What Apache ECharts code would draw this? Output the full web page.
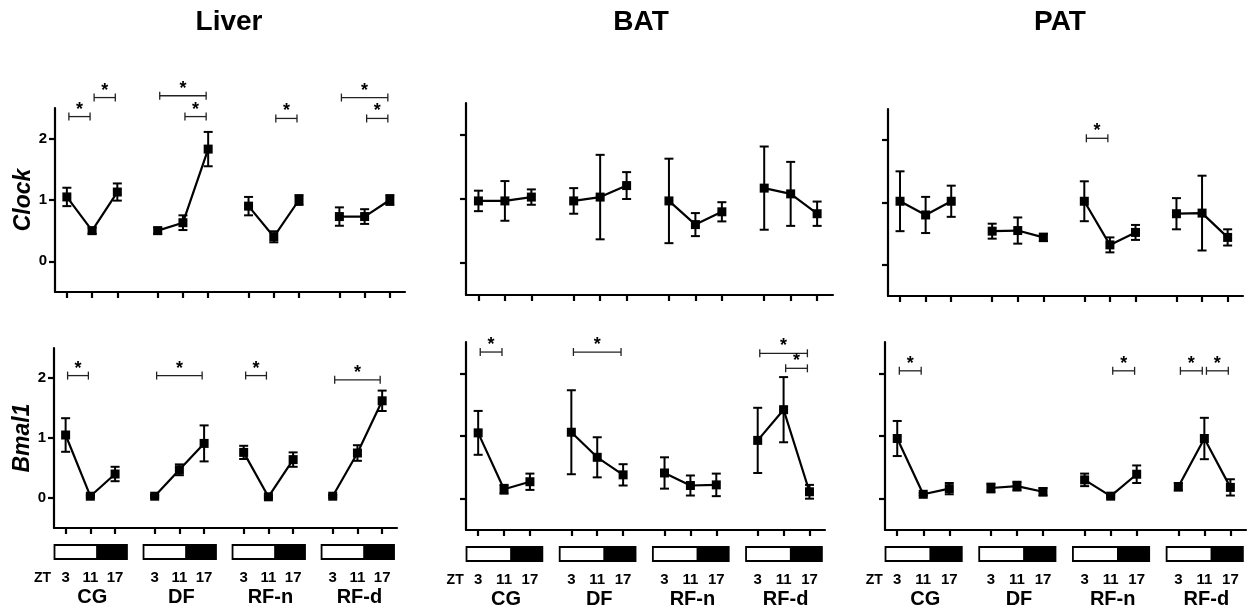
<!DOCTYPE html>
<html><head><meta charset="utf-8">
<script src="https://cdn.jsdelivr.net/npm/echarts@6/dist/echarts.min.js"></script>
<style>html,body{margin:0;padding:0;background:#fff}#c{width:1254px;height:611px}</style>
</head><body><div id="c"></div>
<script>
const groups = ['CG', 'DF', 'RF-n', 'RF-d'];
const ztLabels = ['3', '11', '17'];
const tissues = ['Liver', 'BAT', 'PAT'];
const genes = ['Clock', 'Bmal1'];
const yTicks = [0, 1, 2];

// values per group: ZT3, ZT11, ZT17 for CG, DF, RF-n, RF-d
const liverClockMean = [1.05, 0.50, 1.13, 0.50, 0.63, 1.83, 0.90, 0.40, 1.00, 0.73, 0.73, 1.00];
const liverClockErr  = [0.15, 0.05, 0.14, 0.05, 0.12, 0.28, 0.15, 0.09, 0.08, 0.15, 0.12, 0.08];
const batClockMean   = [0.97, 0.97, 1.03, 0.97, 1.03, 1.21, 0.97, 0.60, 0.80, 1.17, 1.08, 0.77];
const batClockErr    = [0.16, 0.31, 0.12, 0.20, 0.66, 0.21, 0.66, 0.18, 0.15, 0.65, 0.50, 0.19];
const patClockMean   = [1.02, 0.80, 1.02, 0.54, 0.55, 0.44, 1.02, 0.32, 0.52, 0.82, 0.83, 0.44];
const patClockErr    = [0.48, 0.29, 0.25, 0.12, 0.21, 0.06, 0.32, 0.12, 0.12, 0.25, 0.60, 0.13];
const liverBmalMean  = [1.05, 0.03, 0.40, 0.03, 0.47, 0.91, 0.76, 0.02, 0.64, 0.03, 0.75, 1.62];
const liverBmalErr   = [0.28, 0.02, 0.12, 0.02, 0.09, 0.30, 0.11, 0.02, 0.12, 0.02, 0.13, 0.17];
const batBmalMean    = [1.05, 0.15, 0.27, 1.06, 0.66, 0.38, 0.41, 0.21, 0.22, 0.93, 1.42, 0.11];
const batBmalErr     = [0.35, 0.07, 0.13, 0.67, 0.32, 0.17, 0.25, 0.16, 0.18, 0.52, 0.52, 0.11];
const patBmalMean    = [0.96, 0.07, 0.16, 0.17, 0.20, 0.11, 0.30, 0.04, 0.39, 0.19, 0.96, 0.18];
const patBmalErr     = [0.28, 0.02, 0.09, 0.07, 0.07, 0.06, 0.10, 0.02, 0.14, 0.06, 0.33, 0.13];

// significance brackets: [group, fromZT index, toZT index, y level]
const liverClockSig = [[0, 0, 1, 2.36], [0, 1, 2, 2.67], [1, 0, 2, 2.70], [1, 1, 2, 2.36], [2, 1, 2, 2.33], [3, 0, 2, 2.67], [3, 1, 2, 2.33]];
const batClockSig   = [];
const patClockSig   = [[2, 0, 1, 2.03]];
const liverBmalSig  = [[0, 0, 1, 2.04], [1, 0, 2, 2.04], [2, 0, 1, 2.04], [3, 0, 2, 1.97]];
const batBmalSig    = [[0, 0, 1, 2.34], [1, 0, 2, 2.34], [3, 0, 2, 2.32], [3, 1, 2, 2.08]];
const patBmalSig    = [[0, 0, 1, 2.04], [2, 1, 2, 2.04], [3, 0, 1, 2.04], [3, 1, 2, 2.04]];

const panels = [
  { mean: liverClockMean, err: liverClockErr, sig: liverClockSig },
  { mean: batClockMean, err: batClockErr, sig: batClockSig },
  { mean: patClockMean, err: patClockErr, sig: patClockSig },
  { mean: liverBmalMean, err: liverBmalErr, sig: liverBmalSig },
  { mean: batBmalMean, err: batBmalErr, sig: batBmalSig },
  { mean: patBmalMean, err: patBmalErr, sig: patBmalSig }
];

// layout
const gridBoxes = [[55, 108, 350, 184], [466, 103, 367, 192], [888, 109, 355, 187],
                   [54, 348, 343, 180], [466, 342, 359, 188], [885, 342, 361, 188]];
const GROUP_STEP = 3.6;
const X_MIN = -0.47, X_MAX = 13.4, Y_MIN = -0.5, Y_MAX = 2.5;
const FONT = '"Liberation Sans", Arial, sans-serif';
function pos(g, i) { return g * GROUP_STEP + i; }
const xTicks = [];
groups.forEach((g, gi) => ztLabels.forEach((z, i) => xTicks.push(pos(gi, i))));

const chart = echarts.init(document.getElementById('c'));
const grid = [], xAxis = [], yAxis = [], series = [];

panels.forEach((p, k) => {
  const b = gridBoxes[k];
  grid.push({ left: b[0], top: b[1], width: b[2], height: b[3] });
  xAxis.push({
    gridIndex: k, type: 'value', min: X_MIN, max: X_MAX,
    axisLine: { show: true, onZero: false, lineStyle: { color: '#000', width: 2.2 } },
    axisTick: { show: true, length: 6, customValues: xTicks, lineStyle: { color: '#000', width: 2.2 } },
    axisLabel: { show: false }, splitLine: { show: false }
  });
  const left = (k % 3 === 0);
  yAxis.push({
    gridIndex: k, type: 'value', min: Y_MIN, max: Y_MAX,
    name: left ? genes[Math.floor(k / 3)] : '',
    nameLocation: 'middle', nameRotate: 90, nameGap: 19,
    nameTextStyle: { fontFamily: FONT, fontWeight: 'bold', fontStyle: 'italic', fontSize: 23, color: '#000' },
    axisLine: { show: true, onZero: false, lineStyle: { color: '#000', width: 2.2 } },
    axisTick: { show: true, length: 6, customValues: yTicks, lineStyle: { color: '#000', width: 2.2 } },
    axisLabel: { show: left, customValues: yTicks, margin: 8, fontFamily: FONT, fontWeight: 'bold', fontSize: 15, color: '#000' },
    splitLine: { show: false }
  });

  // error bars
  series.push({
    type: 'custom', xAxisIndex: k, yAxisIndex: k, z: 2, clip: false,
    encode: { x: 0, y: [1, 2] },
    data: p.mean.map((m, j) => [pos(Math.floor(j / 3), j % 3), m - p.err[j], m + p.err[j]]),
    renderItem: function (params, api) {
      const x = api.value(0);
      const a = api.coord([x, api.value(1)]), c = api.coord([x, api.value(2)]);
      const w = 4.5, st = { stroke: '#000', lineWidth: 2 };
      return { type: 'group', children: [
        { type: 'line', shape: { x1: a[0], y1: a[1], x2: c[0], y2: c[1] }, style: st },
        { type: 'line', shape: { x1: a[0] - w, y1: a[1], x2: a[0] + w, y2: a[1] }, style: st },
        { type: 'line', shape: { x1: c[0] - w, y1: c[1], x2: c[0] + w, y2: c[1] }, style: st }
      ] };
    }
  });

  // lines per group
  groups.forEach((gname, g) => {
    series.push({
      type: 'line', name: gname, xAxisIndex: k, yAxisIndex: k, z: 3,
      data: ztLabels.map((z, i) => [pos(g, i), p.mean[g * 3 + i]]),
      symbol: 'rect', symbolSize: 9,
      lineStyle: { color: '#000', width: 2.2 }, itemStyle: { color: '#000' }
    });
  });

  // significance brackets
  if (p.sig.length) {
    series.push({
      type: 'custom', xAxisIndex: k, yAxisIndex: k, z: 4, clip: false,
      data: p.sig.map(s => [pos(s[0], s[1]) + 0.08, pos(s[0], s[2]) - 0.08, s[3]]),
      renderItem: function (params, api) {
        const a = api.coord([api.value(0), api.value(2)]), c = api.coord([api.value(1), api.value(2)]);
        const st = { stroke: '#222', lineWidth: 1.3 }, h = 4;
        return { type: 'group', children: [
          { type: 'line', shape: { x1: a[0], y1: a[1], x2: c[0], y2: c[1] }, style: st },
          { type: 'line', shape: { x1: a[0], y1: a[1] - h, x2: a[0], y2: a[1] + h }, style: st },
          { type: 'line', shape: { x1: c[0], y1: c[1] - h, x2: c[0], y2: c[1] + h }, style: st },
          { type: 'text', x: (a[0] + c[0]) / 2, y: a[1] - 7,
            style: { text: '*', font: 'bold 18px ' + FONT, fill: '#000', align: 'center', verticalAlign: 'middle' } }
        ] };
      }
    });
  }

  // light/dark bars, ZT labels, group names under bottom row
  if (k >= 3) {
    series.push({
      type: 'custom', xAxisIndex: k, yAxisIndex: k, z: 4, clip: false,
      data: groups.map((g, gi) => [gi]),
      renderItem: function (params, api) {
        const g = api.value(0);
        const base = api.coord([pos(g, 0), Y_MIN])[1];
        const x0 = api.coord([pos(g, -0.45), Y_MIN])[0];
        const x1 = api.coord([pos(g, 1.28), Y_MIN])[0];
        const x2 = api.coord([pos(g, 2.48), Y_MIN])[0];
        const top = base + 17, hgt = 14;
        const ch = [
          { type: 'rect', shape: { x: x0, y: top, width: x1 - x0, height: hgt }, style: { fill: '#fff', stroke: '#000', lineWidth: 1.8 } },
          { type: 'rect', shape: { x: x1, y: top, width: x2 - x1, height: hgt }, style: { fill: '#000', stroke: '#000', lineWidth: 1.8 } }
        ];
        ztLabels.forEach((z, i) => {
          ch.push({ type: 'text', x: api.coord([pos(g, i), Y_MIN])[0], y: base + 50,
            style: { text: z, font: 'bold 15px ' + FONT, fill: '#000', align: 'center', verticalAlign: 'middle' } });
        });
        if (g === 0) {
          ch.push({ type: 'text', x: api.coord([pos(g, 0), Y_MIN])[0] - 23, y: base + 50,
            style: { text: 'ZT', font: 'bold 14px ' + FONT, fill: '#000', align: 'center', verticalAlign: 'middle' } });
        }
        ch.push({ type: 'text', x: api.coord([pos(g, 1), Y_MIN])[0] + 2, y: base + 69,
          style: { text: groups[g], font: 'bold 20px ' + FONT, fill: '#000', align: 'center', verticalAlign: 'middle' } });
        return { type: 'group', children: ch };
      }
    });
  }
});

const titleX = [229, 641, 1060];
const graphic = tissues.map((t, i) => ({
  type: 'text', x: titleX[i], y: 22,
  style: { text: t, font: 'bold 28px ' + FONT, fill: '#000', align: 'center', verticalAlign: 'middle' }
}));

chart.setOption({
  animation: false,
  backgroundColor: '#fff',
  graphic: graphic,
  grid: grid, xAxis: xAxis, yAxis: yAxis, series: series
});
</script></body></html>
